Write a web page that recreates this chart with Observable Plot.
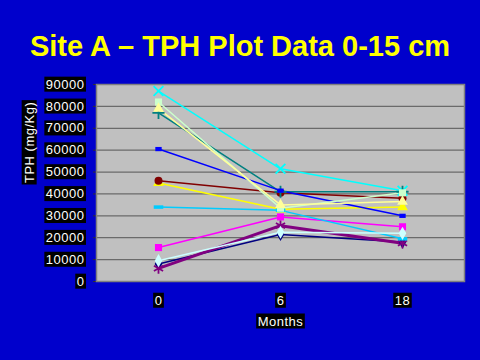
<!DOCTYPE html>
<html><head><meta charset="utf-8">
<script src="https://cdn.jsdelivr.net/npm/d3@7"></script>
<script src="https://cdn.jsdelivr.net/npm/@observablehq/plot@0.6"></script>
<style>
html,body{margin:0;padding:0;background:#0000CC;width:480px;height:360px;overflow:hidden;}
#title{position:absolute;left:0;top:32px;width:480px;text-align:center;font:bold 29px "Liberation Sans",Arial,sans-serif;line-height:29px;color:#FFFF00;white-space:nowrap;}
#chart{position:absolute;left:0;top:70px;}
</style></head><body>
<div id="title">Site A – TPH Plot Data 0-15 cm</div>
<div id="chart"></div>
<script>
// ---- data ----
const months = ["0", "6", "18"];
const yTicks = [0, 10000, 20000, 30000, 40000, 50000, 60000, 70000, 80000, 90000];
const titleText = "Site A – TPH Plot Data 0-15 cm";
const yLabel = "TPH (mg/Kg)";
const xLabel = "Months";
const series1 = [8000, 21500, 18000];
const series2 = [15500, 29500, 25000];
const series3 = [45000, 33000, 34000];
const series4 = [87000, 51500, 41500];
const series5 = [6000, 25500, 17500];
const series6 = [46000, 40500, 38000];
const series7 = [77000, 41000, 41000];
const series8 = [60500, 41500, 30000];
const series9 = [34000, 32500, 19500];
const series10 = [9500, 22500, 22000];
const series11 = [82000, 33500, 40500];
const series12 = [79000, 35000, 36500];
const seriesValues = [series1, series2, series3, series4, series5, series6, series7, series8, series9, series10, series11, series12];

// ---- styles ----
const dash = (wf, hf) => ({draw(ctx, size) {
  const s = Math.sqrt(size);
  ctx.moveTo(-s * wf, -s * hf); ctx.lineTo(s * wf, -s * hf);
  ctx.lineTo(s * wf, s * hf); ctx.lineTo(-s * wf, s * hf); ctx.closePath();
}});
const styles = [
  {color: "#000080", symbol: "diamond", r: 4, filled: true, sw: 1.5},
  {color: "#FF00FF", symbol: "square", r: 4, filled: true, sw: 1.5},
  {color: "#FFFF00", symbol: "triangle", r: 4, filled: true, sw: 1.5},
  {color: "#00FFFF", symbol: "times", r: 4.5, filled: false, sw: 1.5},
  {color: "#800080", symbol: "asterisk", r: 5, filled: false, sw: 3},
  {color: "#800000", symbol: "circle", r: 4, filled: true, sw: 1.5},
  {color: "#008080", symbol: "plus", r: 4, filled: false, sw: 1.5},
  {color: "#0000FF", symbol: dash(0.45, 0.3), r: 4, filled: true, sw: 1.5},
  {color: "#00CCFF", symbol: dash(0.6, 0.22), r: 4.5, filled: true, sw: 1.5},
  {color: "#CCFFFF", symbol: "diamond", r: 4, filled: true, sw: 1.5},
  {color: "#CCFFCC", symbol: "square", r: 4, filled: true, sw: 1.5},
  {color: "#FFFF99", symbol: "triangle", r: 4, filled: true, sw: 1.5}
];

const marks = [
  Plot.frame({fill: "#C0C0C0", stroke: null}),
  Plot.ruleY(yTicks, {stroke: "#6a6a6a", strokeWidth: 1.2})
];
seriesValues.forEach((vals, k) => {
  const rows = months.map((m, i) => ({month: m, value: vals[i]}));
  const st = styles[k];
  marks.push(Plot.line(rows, {x: "month", y: "value", stroke: st.color, strokeWidth: st.sw}));
});
seriesValues.forEach((vals, k) => {
  const rows = months.map((m, i) => ({month: m, value: vals[i]}));
  const st = styles[k];
  marks.push(Plot.dot(rows, st.filled
    ? {x: "month", y: "value", symbol: st.symbol, r: st.r, fill: st.color, stroke: null}
    : {x: "month", y: "value", symbol: st.symbol, r: st.r, stroke: st.color, fill: "none", strokeWidth: 1.8}));
});
marks.push(Plot.frame({stroke: "#808080", strokeWidth: 1.5}));
marks.push(Plot.text([yLabel], {frameAnchor: "left", dx: -67, rotate: -90, fill: "white", fontSize: 13}));
marks.push(Plot.text([xLabel], {frameAnchor: "bottom", dy: 44, fill: "white", fontSize: 13}));

const chart = Plot.plot({
  width: 480,
  height: 290,
  marginTop: 14,
  marginBottom: 79,
  marginLeft: 96,
  marginRight: 16,
  style: {fontFamily: "Liberation Sans, Arial, sans-serif", fontSize: "13px", color: "white", background: "transparent", letterSpacing: "0.5px"},
  x: {type: "point", domain: months, padding: 0.5, tickSize: 0, tickPadding: 14, label: null},
  y: {domain: [0, 90000], ticks: yTicks, tickFormat: d => String(d), tickSize: 3, tickPadding: 9, label: null},
  marks
});
document.getElementById("chart").appendChild(chart);

// black label boxes behind every text
const svg = chart.tagName.toLowerCase() === "svg" ? chart : chart.querySelector("svg");
svg.querySelectorAll('[aria-label="y-axis tick"]').forEach(g => g.setAttribute("stroke", "#303030"));
svg.querySelectorAll("text").forEach(t => {
  const b = t.getBBox();
  const r = document.createElementNS("http://www.w3.org/2000/svg", "rect");
  r.setAttribute("x", b.x - 1.5);
  r.setAttribute("y", b.y);
  r.setAttribute("width", b.width + 3);
  r.setAttribute("height", b.height);
  r.setAttribute("fill", "black");
  r.setAttribute("stroke", "none");
  const tr = t.getAttribute("transform");
  if (tr) r.setAttribute("transform", tr);
  t.parentNode.insertBefore(r, t);
});
</script>
</body></html>
